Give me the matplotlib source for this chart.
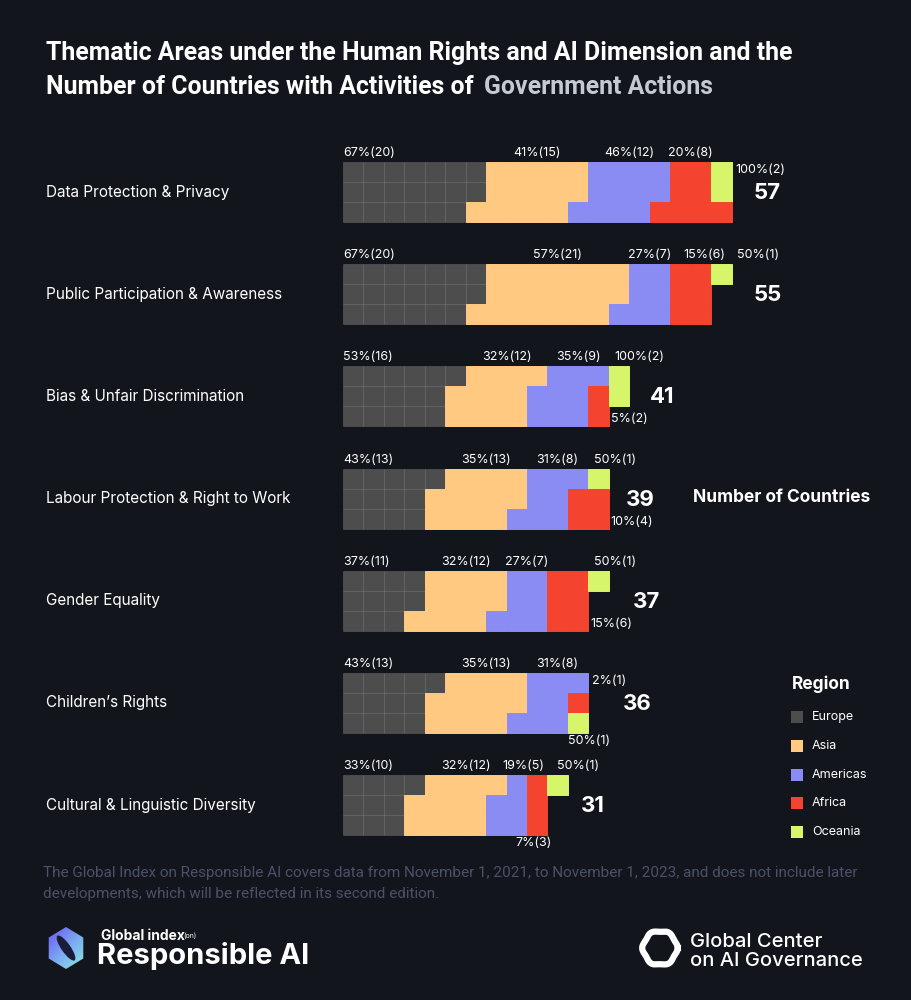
###############################################################################
### Waffle bars: thematic areas under Human Rights and AI, Government Actions
###############################################################################

import matplotlib.pyplot as plt
from matplotlib.patches import Rectangle, Polygon, Ellipse
import numpy as np


#------------------------------------------------------------------------------
### Data

THEMES = ['Data Protection & Privacy', 'Public Participation & Awareness',
          'Bias & Unfair Discrimination', 'Labour Protection & Right to Work',
          'Gender Equality', 'Children\u2019s Rights',
          'Cultural & Linguistic Diversity']
REGIONS = ['Europe', 'Asia', 'Americas', 'Africa', 'Oceania']

# number of countries per region and theme
EUROPE_N = [20, 20, 16, 13, 11, 13, 10]
ASIA_N = [15, 21, 12, 13, 12, 13, 12]
AMERICAS_N = [12, 7, 9, 8, 7, 8, 5]
AFRICA_N = [8, 6, 2, 4, 6, 1, 3]
OCEANIA_N = [2, 1, 2, 1, 1, 1, 1]

# share of the region's countries (%)
EUROPE_PCT = [67, 67, 53, 43, 37, 43, 33]
ASIA_PCT = [41, 57, 32, 35, 32, 35, 32]
AMERICAS_PCT = [46, 27, 35, 31, 27, 31, 19]
AFRICA_PCT = [20, 15, 5, 10, 15, 2, 7]
OCEANIA_PCT = [100, 50, 100, 50, 50, 50, 50]

COUNTS = [EUROPE_N, ASIA_N, AMERICAS_N, AFRICA_N, OCEANIA_N]
PCTS = [EUROPE_PCT, ASIA_PCT, AMERICAS_PCT, AFRICA_PCT, OCEANIA_PCT]


#------------------------------------------------------------------------------
### Layout / style

W, H = 912, 1000
BG = '#13151c'
COLOR_DICT = {'Europe': '#4d4d4d', 'Asia': '#ffc981', 'Americas': '#8b8cf3',
              'Africa': '#f4432e', 'Oceania': '#d7f56b'}
FOOT_COLOR = '#4b5169'

BAR_X0 = 343
CELL_W = 20.45
CELL_H = 20
ROW_TOP0 = 162
ROW_STEP = 102.2
N_CELL_ROWS = 3

# where the small Africa / Oceania labels sit
AFRICA_LABEL_POS = ['top', 'top', 'right_bottom', 'right_bottom',
                    'right_bottom', 'right_top', 'below']
OCEANIA_LABEL_POS = ['right_top', 'top', 'top', 'top', 'top', 'below', 'top']
TOTAL_PAD = [22, 22, 21, 17, 24, 34, 13]

FONT = 'Inter'
TITLE_FONT = ['Liberation Sans Narrow', 'Roboto']
TITLE_SIZE = 17.9
LABEL_GAP = 12


#------------------------------------------------------------------------------
### Functions

def cell_layout(counts):
    # column-major fill, 3 cells per column
    seq = []
    for reg, n in zip(REGIONS, counts):
        seq += [reg] * n
    cells = [(k // N_CELL_ROWS, k % N_CELL_ROWS, reg) for k, reg in enumerate(seq)]
    # last column: when it holds two regions, put the later one on top
    last = cells[-1][0]
    idx = [i for i, c in enumerate(cells) if c[0] == last]
    regs = [cells[i][2] for i in idx]
    if len(set(regs)) == 2:
        regs = regs[::-1]
        for i, r in zip(idx, regs):
            cells[i] = (cells[i][0], cells[i][1], r)
    return cells


def text_width(t, renderer):
    bb = t.get_window_extent(renderer=renderer)
    return bb.width


#------------------------------------------------------------------------------
### Figure

fig = plt.figure(figsize=(W / 100, H / 100), dpi=100, facecolor=BG)
ax = fig.add_axes([0, 0, 1, 1])
ax.set_xlim(0, W)
ax.set_ylim(H, 0)
ax.axis('off')
ax.set_facecolor(BG)
renderer = fig.canvas.get_renderer()

# Title
ax.text(46, 60, 'Thematic Areas under the Human Rights and AI Dimension and the',
        family=TITLE_FONT, fontweight='bold', fontsize=TITLE_SIZE, color='white',
        va='baseline')
t2 = ax.text(46, 94, 'Number of Countries with Activities of ',
             family=TITLE_FONT, fontweight='bold', fontsize=TITLE_SIZE,
             color='white', va='baseline')
x2 = 46 + text_width(t2, renderer) + 4
ax.text(x2, 94, 'Government Actions', family=TITLE_FONT, fontweight='bold',
        fontsize=TITLE_SIZE, color='#c3cad2', va='baseline')

for i, theme in enumerate(THEMES):
    counts = [c[i] for c in COUNTS]
    top = ROW_TOP0 + i * ROW_STEP
    cells = cell_layout(counts)

    # Draw cells (grid lines show on the grey cells only)
    for col, row, reg in cells:
        edge = (1, 1, 1, 0.13) if reg == 'Europe' else COLOR_DICT[reg]
        ax.add_patch(Rectangle((BAR_X0 + col * CELL_W, top + row * CELL_H),
                               CELL_W, CELL_H, facecolor=COLOR_DICT[reg],
                               edgecolor=edge, lw=0.7))

    # Theme label
    ax.text(46, top + 1.5 * CELL_H, theme, family=FONT, fontsize=11,
            color='white', va='center', ha='left')

    # Region labels
    prev_right = 0
    for r, reg in enumerate(REGIONS):
        rc = [c for c in cells if c[2] == reg]
        label = '%d%%(%d)' % (PCTS[r][i], counts[r])
        xs = [BAR_X0 + c[0] * CELL_W for c in rc]
        x_left, x_right = min(xs), max(xs) + CELL_W
        top_row = [BAR_X0 + c[0] * CELL_W for c in rc if c[1] == 0]
        pos = 'top'
        if reg == 'Africa':
            pos = AFRICA_LABEL_POS[i]
        elif reg == 'Oceania':
            pos = OCEANIA_LABEL_POS[i]

        kw = dict(family=FONT, fontsize=9, color='white')
        if pos == 'top':
            t = ax.text(0, top - 3, label, va='bottom', ha='left', **kw)
            w = text_width(t, renderer)
            if reg == 'Europe':
                x = BAR_X0
            elif reg == 'Oceania':
                x = min(top_row) + 6
            else:
                x = (min(top_row) + max(top_row) + CELL_W) / 2 - w / 2
            if x < prev_right + LABEL_GAP and reg != 'Europe':
                x = prev_right + LABEL_GAP
            t.set_x(x)
            prev_right = x + w
        elif pos == 'right_top':
            ax.text(max(xs) + CELL_W + 4, top + 0.5 * CELL_H - 2, label,
                    va='center', ha='left', **kw)
        elif pos == 'right_bottom':
            right = max(BAR_X0 + c[0] * CELL_W for c in rc if c[1] == 2)
            ax.text(right + CELL_W + 2, top + 2.5 * CELL_H + 3, label,
                    va='center', ha='left', **kw)
        elif pos == 'below':
            if reg == 'Oceania':
                ax.text(x_left, top + 3 * CELL_H + 2, label, va='top',
                        ha='left', **kw)
            else:
                ax.text((x_left + x_right) / 2 - 4, top + 3 * CELL_H + 2,
                        label, va='top', ha='center', **kw)

    # Total number of countries
    bar_end = BAR_X0 + (max(c[0] for c in cells) + 1) * CELL_W
    ax.text(bar_end + TOTAL_PAD[i], top + 1.5 * CELL_H + 1, str(sum(counts)),
            family=FONT, fontsize=16, fontweight='bold', color='white',
            va='center', ha='left')

ax.text(693, 497, 'Number of Countries', family=FONT, fontsize=12.5,
        fontweight='bold', color='white', va='center', ha='left')

# Legend
ax.text(792, 684, 'Region', family=FONT, fontsize=12.5, fontweight='bold',
        color='white', va='center', ha='left')
for k, reg in enumerate(REGIONS):
    y = 717 + k * 28.8
    ax.add_patch(Rectangle((791, y - 6), 12, 12, facecolor=COLOR_DICT[reg],
                           edgecolor='none'))
    ax.text(812, y, reg, family=FONT, fontsize=9, color='white',
            va='center', ha='left')

# Footer note
ax.text(43, 873, 'The Global Index on Responsible AI covers data from November 1, '
        '2021, to November 1, 2023, and does not include later',
        family=TITLE_FONT, fontsize=11, color=FOOT_COLOR, va='center')
ax.text(43, 894, 'developments, which will be reflected in its second edition.',
        family=TITLE_FONT, fontsize=11, color=FOOT_COLOR, va='center')

# Left logo: gradient hexagon
hx, hy, hr = 66, 948, 21
ang = np.deg2rad(np.arange(6) * 60 + 90)
hexagon = Polygon(np.c_[hx + hr * 0.95 * np.cos(ang), hy + hr * np.sin(ang)],
                  closed=True, facecolor='none', edgecolor='none',
                  joinstyle='round')
ax.add_patch(hexagon)
grad = np.linspace(0, 1, 64)[None, :] * np.ones((64, 1))
grad = (grad + np.linspace(0, 1, 64)[:, None]) / 2
cmap = plt.matplotlib.colors.LinearSegmentedColormap.from_list(
    'logo', ['#6a4cf0', '#7aa6f2', '#8ef0e0'])
im = ax.imshow(grad, cmap=cmap, extent=(hx - hr, hx + hr, hy + hr, hy - hr),
               zorder=2)
im.set_clip_path(hexagon)
ax.add_patch(Ellipse((hx, hy), 9, 30, angle=-35, facecolor='#1b1c3a',
                     edgecolor='none', zorder=3))
ax.set_xlim(0, W)
ax.set_ylim(H, 0)

ax.text(101, 936, 'Global index', family=FONT, fontsize=10, fontweight='bold',
        color='white', va='center', ha='left')
ax.text(183, 936, '(on)', family=FONT, fontsize=5, color='white',
        va='center', ha='left')
ax.text(97, 956, 'Responsible AI', family=FONT, fontsize=21, fontweight='bold',
        color='white', va='center', ha='left')

# Right logo
ang = np.linspace(0, 2 * np.pi, 200)
rr = 17 + 0.8 * np.cos(6 * ang)
ax.plot(660 + rr * np.cos(ang), 948 + rr * np.sin(ang), color='white', lw=4.5)
ax.text(690, 942, 'Global Center', family=FONT, fontsize=14.5,
        fontweight='medium', color='white', va='center', ha='left')
ax.text(690, 961, 'on AI Governance', family=FONT, fontsize=14.5,
        fontweight='medium', color='white', va='center', ha='left')

plt.savefig('out.png', dpi=100, facecolor=BG)
plt.close()
